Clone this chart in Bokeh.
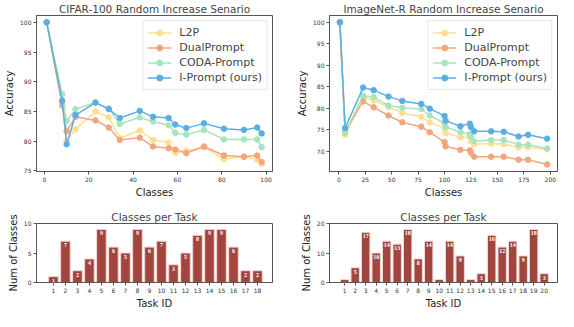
from bokeh.plotting import figure
from bokeh.layouts import column, row
from bokeh.models import (Span, ColumnDataSource, Legend, LegendItem, FixedTicker,
                          Range1d, LabelSet)
from bokeh.embed import file_html
from bokeh.resources import INLINE

# ---------------- data ----------------
cifar_classes = [1, 8, 10, 14, 23, 29, 34, 43, 49, 56, 59, 64, 72, 81, 90, 96, 98]
cifar_l2p = [100, 86.4, 80.1, 82.0, 85.0, 84.0, 80.5, 81.8, 80.2, 79.8, 78.0, 78.4, 79.0, 77.0, 77.4, 76.9, 76.2]
cifar_dual = [100, 86.0, 81.7, 84.1, 83.5, 82.3, 80.2, 80.6, 79.1, 78.8, 78.6, 78.0, 79.1, 77.6, 77.4, 77.6, 76.5]
cifar_coda = [100, 87.9, 83.4, 85.4, 86.5, 85.5, 82.9, 84.0, 83.3, 82.7, 81.4, 81.1, 81.9, 80.3, 80.3, 80.3, 79.0]
cifar_iprompt = [100, 86.8, 79.5, 84.4, 86.5, 85.4, 83.9, 85.1, 84.1, 83.9, 82.8, 82.2, 83.0, 82.1, 81.9, 82.3, 81.3]

imr_classes = [1, 6, 23, 33, 47, 60, 78, 86, 100, 101, 115, 124, 125, 128, 144, 156, 170, 179, 197]
imr_l2p = [100, 73.8, 82.6, 81.8, 80.3, 78.9, 78.0, 76.7, 75.3, 74.2, 73.2, 73.3, 72.3, 71.6, 71.8, 71.6, 70.9, 70.9, 70.4]
imr_dual = [100, 74.5, 81.6, 80.2, 78.3, 76.7, 75.7, 74.4, 72.1, 71.1, 70.3, 70.2, 69.6, 68.7, 68.7, 68.7, 68.0, 68.0, 66.9]
imr_coda = [100, 74.3, 82.9, 82.6, 80.6, 80.1, 79.8, 78.3, 76.5, 75.6, 74.4, 74.0, 73.3, 72.3, 72.6, 72.6, 71.5, 71.5, 70.6]
imr_iprompt = [100, 75.4, 84.8, 84.2, 82.7, 81.7, 81.0, 79.9, 78.2, 77.1, 75.8, 76.4, 75.6, 74.6, 74.6, 74.5, 73.4, 73.8, 72.9]

cifar_tasks = list(range(1, 19))
cifar_counts = [1, 7, 2, 4, 9, 6, 5, 9, 6, 7, 3, 5, 8, 9, 9, 6, 2, 2]
imr_tasks = list(range(1, 21))
imr_counts = [1, 5, 17, 10, 14, 13, 18, 8, 14, 1, 14, 9, 1, 3, 16, 12, 14, 9, 18, 3]

method_names = ["L2P", "DualPrompt", "CODA-Prompt", "I-Prompt (ours)"]
method_colors = ["#FFDF8E", "#F4A57C", "#A6E5BF", "#5AAEE3"]

cifar_xticks = [0, 20, 40, 60, 80, 100]
cifar_yticks = [75, 80, 85, 90, 95, 100]
imr_xticks = [0, 25, 50, 75, 100, 125, 150, 175, 200]
imr_yticks = [70, 75, 80, 85, 90, 95, 100]

FONT = "DejaVu Sans"
AXC = "#555555"
BAR_COLOR = "#A1453E"


def style(p, xlabel, ylabel, title):
    p.title.text = title
    p.title.text_font = FONT
    p.title.text_font_size = "10.5px"
    p.title.text_font_style = "normal"
    p.title.align = "center"
    p.title.offset = 0
    p.title.standoff = 1
    p.xgrid.visible = False
    p.ygrid.visible = False
    p.outline_line_color = AXC
    p.outline_line_width = 1
    p.xaxis.axis_label = xlabel
    p.yaxis.axis_label = ylabel
    for ax in p.xaxis + p.yaxis:
        ax.axis_label_text_font = FONT
        ax.axis_label_text_font_size = "10px"
        ax.axis_label_text_font_style = "normal"
        ax.axis_label_text_color = "#222222"
        ax.axis_label_standoff = 2
        ax.major_label_text_font = FONT
        ax.major_label_text_font_size = "6px"
        ax.major_label_text_color = "#333333"
        ax.major_label_standoff = 2
        ax.axis_line_color = AXC
        ax.major_tick_line_color = AXC
        ax.major_tick_out = 3
        ax.major_tick_in = 0
        ax.minor_tick_line_color = None


def line_chart(xs, series, xr, yr, xticks, yticks, title, w, h, bl, br, bt, bb):
    p = figure(width=w, height=h, x_range=Range1d(*xr), y_range=Range1d(*yr),
               toolbar_location=None, output_backend="svg",
               min_border_left=bl, min_border_right=br, min_border_top=bt, min_border_bottom=bb)
    style(p, "Classes", "Accuracy", title)
    p.xaxis.ticker = FixedTicker(ticks=xticks)
    p.yaxis.ticker = FixedTicker(ticks=yticks)
    items = []
    for name, col, ys in zip(method_names, method_colors, series):
        src = ColumnDataSource(dict(x=xs, y=ys))
        r1 = p.line("x", "y", source=src, line_color=col, line_width=1.5)
        r2 = p.scatter("x", "y", source=src, size=5.5, fill_color=col, line_color=col)
        items.append(LegendItem(label=name, renderers=[r1, r2]))
    leg = Legend(items=items, location="top_right")
    leg.label_text_font = FONT
    leg.label_text_font_size = "11px"
    leg.label_height = 15
    leg.glyph_height = 15
    leg.glyph_width = 24
    leg.label_standoff = 8
    leg.spacing = 0
    leg.padding = 4
    leg.margin = 5
    leg.border_line_color = "#d0d0d0"
    leg.border_line_width = 1
    p.add_layout(leg, "center")
    return p


def bar_chart(tasks, counts, xr, ymax, yticks, w, h, bl, br, bt, bb):
    p = figure(width=w, height=h, x_range=Range1d(*xr), y_range=Range1d(0, ymax),
               toolbar_location=None, output_backend="svg",
               min_border_left=bl, min_border_right=br, min_border_top=bt, min_border_bottom=bb)
    style(p, "Task ID", "Num of Classes", "Classes per Task")
    p.xaxis.ticker = FixedTicker(ticks=tasks)
    p.yaxis.ticker = FixedTicker(ticks=yticks)
    src = ColumnDataSource(dict(x=tasks, top=counts, lab=[str(c) for c in counts]))
    p.vbar(x="x", top="top", width=0.8, source=src, fill_color=BAR_COLOR,
           line_color="#EED9D7", line_width=1)
    labels = LabelSet(x="x", y="top", text="lab", source=src, text_color="white",
                      text_font=FONT, text_font_size="6px", text_font_style="bold",
                      text_align="center", text_baseline="top", y_offset=-2)
    p.add_layout(labels)
    return p


def separator(w, bl, br):
    s = figure(width=w, height=8, x_range=Range1d(0, 1), y_range=Range1d(-1, 1),
               toolbar_location=None, output_backend="svg",
               x_axis_location=None, y_axis_location=None,
               min_border_left=bl, min_border_right=br, min_border_top=0, min_border_bottom=0)
    s.xgrid.visible = False
    s.ygrid.visible = False
    s.outline_line_color = None
    s.add_layout(Span(location=0, dimension="width", line_color="#c0c0c0",
                      line_width=1, line_dash="4 4"))
    return s


LW, RW = 285, 273
TOP_H, BOT_H = 200, 103

tl = line_chart(cifar_classes, [cifar_l2p, cifar_dual, cifar_coda, cifar_iprompt],
                (-3.6, 102.9), (74.9, 101.15), cifar_xticks, cifar_yticks,
                "CIFAR-100 Random Increase Senario", LW, TOP_H, 36, 13, 14, 26)
tr = line_chart(imr_classes, [imr_l2p, imr_dual, imr_coda, imr_iprompt],
                (-8.8, 206.8), (65.25, 101.6), imr_xticks, imr_yticks,
                "ImageNet-R Random Increase Senario", RW, TOP_H, 44, 1, 14, 26)
bl = bar_chart(cifar_tasks, cifar_counts, (-0.41, 19.25), 10, [0, 5, 10], LW, BOT_H, 36, 13, 13, 26)
br = bar_chart(imr_tasks, imr_counts, (-0.45, 21.27), 20, [0, 10, 20], RW, BOT_H, 44, 1, 13, 26)

sl = separator(LW, 36, 32)
sr = separator(RW, 18, 0)

layout = column(row(tl, tr), row(sl, sr), row(bl, br))

open("out.html", "w").write(file_html(layout, INLINE))
